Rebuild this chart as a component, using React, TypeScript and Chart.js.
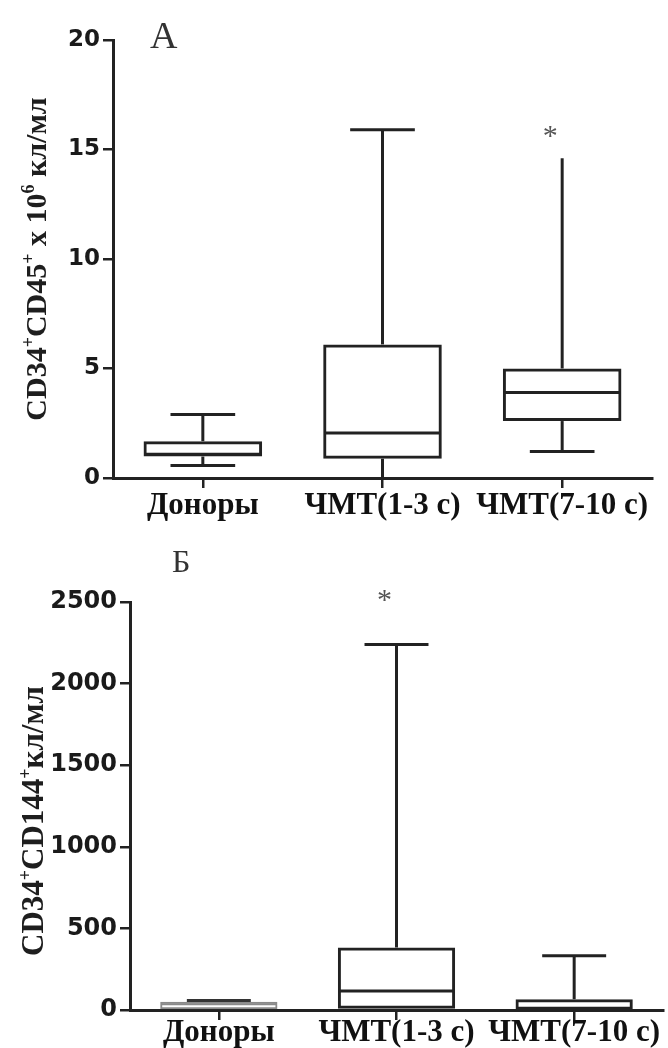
import React, { useEffect, useRef } from 'react';
import { Chart, registerables } from 'chart.js';

Chart.register(...registerables);

// ---------- shared ----------
const categories = ['Доноры', 'ЧМТ(1-3 с)', 'ЧМТ(7-10 с)'];

// ---------- panel A : CD34+CD45+ x 10^6 кл/мл ----------
const minA = [0.57, 0, 1.21];
const q1A = [0.98, 0.88, 2.6];
const medA = [1.08, 2.05, 3.9];
const q3A = [1.68, 6.1, 5.0];
const maxA = [2.9, 15.9, 14.6];
const lowCapA = [true, false, true];
const highCapA = [true, true, false];
const starA: (number | null)[] = [null, null, 15.9];
const yTicksA = [0, 5, 10, 15, 20];
const titleA: [string, boolean][] = [
  ['CD34', false], ['+', true], ['CD45', false], ['+', true],
  [' x 10', false], ['6', true], [' кл/мл', false],
];

// ---------- panel B : CD34+CD144+ кл/мл ----------
const minB = [5, 0, 2];
const q1B = [5, 0, 2];
const medB = [35, 117, 8];
const q3B = [50, 383, 66];
const maxB = [58, 2240, 332];
const lowCapB = [false, false, false];
const highCapB = [true, true, true];
const starB: (number | null)[] = [null, 2550, null];
const yTicksB = [0, 500, 1000, 1500, 2000, 2500];
const titleB: [string, boolean][] = [
  ['CD34', false], ['+', true], ['CD144', false], ['+', true], ['кл/мл', false],
];

const INK = '#222222';

const boxPlugin = {
  id: 'boxWhiskers',
  afterDatasetsDraw(chart: any, _args: any, opts: any) {
    const { ctx } = chart;
    const x = chart.scales.x;
    const y = chart.scales.y;
    const meta = chart.getDatasetMeta(0);
    const catW = x.width / categories.length;
    ctx.save();
    ctx.lineCap = 'butt';
    const line = (x1: number, y1: number, x2: number, y2: number) => {
      ctx.beginPath();
      ctx.moveTo(x1, y1);
      ctx.lineTo(x2, y2);
      ctx.stroke();
    };
    opts.med.forEach((_: number, i: number) => {
      const cx = x.getPixelForValue(i);
      const half = meta.data[i].width / 2;
      const capHalf = (catW * opts.capFrac) / 2;
      const pMin = y.getPixelForValue(opts.min[i]);
      const pQ1 = y.getPixelForValue(opts.q1[i]);
      const pMed = y.getPixelForValue(opts.med[i]);
      const pQ3 = y.getPixelForValue(opts.q3[i]);
      const pMax = y.getPixelForValue(opts.max[i]);
      ctx.strokeStyle = opts.colors[i];
      ctx.lineWidth = opts.widths[i];
      // median
      line(cx - half + 1, pMed, cx + half - 1, pMed);
      // upper whisker
      ctx.strokeStyle = opts.whiskerColors[i];
      ctx.lineWidth = 3;
      line(cx, pQ3, cx, pMax);
      if (opts.highCap[i]) line(cx - capHalf, pMax, cx + capHalf, pMax);
      // lower whisker
      if (opts.min[i] < opts.q1[i]) {
        line(cx, pQ1, cx, pMin);
        if (opts.lowCap[i]) line(cx - capHalf, pMin, cx + capHalf, pMin);
      }
      // significance star
      const s = opts.stars[i];
      if (s !== null && s !== undefined) {
        ctx.fillStyle = '#555555';
        ctx.font = '30px "Liberation Serif", serif';
        ctx.textAlign = 'center';
        ctx.textBaseline = 'alphabetic';
        ctx.fillText('*', cx - 12, y.getPixelForValue(s) + 30 * 0.5);
      }
    });
    ctx.restore();
  },
};

const titlePlugin = {
  id: 'rotTitle',
  afterDraw(chart: any, _args: any, opts: any) {
    const { ctx, chartArea } = chart;
    const segs: [string, boolean][] = opts.segments;
    const bigB = 'bold ' + opts.size + 'px "Liberation Serif", serif';
    const small = 'bold 18px "Liberation Serif", serif';
    ctx.save();
    let total = 0;
    segs.forEach(([t, sup]) => {
      ctx.font = sup ? small : bigB;
      total += ctx.measureText(t).width;
    });
    const cy = (chartArea.top + chartArea.bottom) / 2 + opts.dy;
    ctx.translate(opts.x, cy);
    ctx.rotate(-Math.PI / 2);
    ctx.fillStyle = '#1e1e1e';
    ctx.textBaseline = 'alphabetic';
    ctx.textAlign = 'left';
    let pos = -total / 2;
    segs.forEach(([t, sup]) => {
      ctx.font = sup ? small : bigB;
      ctx.fillText(t, pos, sup ? -2 : 10);
      pos += ctx.measureText(t).width;
    });
    ctx.restore();
  },
};

type PanelProps = {
  q1: number[]; q3: number[]; min: number[]; med: number[]; max: number[];
  lowCap: boolean[]; highCap: boolean[]; stars: (number | null)[];
  ticks: number[]; title: [string, boolean][];
  height: number; padTop: number; padRight: number; yWidth: number; xHeight: number;
  colors: string[]; widths: number[]; whiskerColors: string[]; titleDy: number;
  titleSize: number; labelPad: number; tickSize: number; titleX: number;
};

function BoxPanel(p: PanelProps) {
  const ref = useRef<HTMLCanvasElement | null>(null);
  useEffect(() => {
    if (!ref.current) return;
    const yMax = p.ticks[p.ticks.length - 1];
    const chart = new Chart(ref.current, {
      type: 'bar',
      data: {
        labels: categories,
        datasets: [
          {
            data: p.q1.map((v, i) => [v, p.q3[i]]) as any,
            backgroundColor: 'rgba(255,255,255,0)',
            borderColor: p.colors,
            borderWidth: p.widths,
            borderSkipped: false,
            barPercentage: 0.66,
            categoryPercentage: 1,
          },
        ],
      },
      options: {
        responsive: false,
        animation: false,
        events: [],
        layout: { padding: { top: p.padTop, right: p.padRight, left: 0, bottom: 0 } },
        plugins: {
          legend: { display: false },
          tooltip: { enabled: false },
          title: { display: false },
          boxWhiskers: {
            min: p.min, q1: p.q1, med: p.med, q3: p.q3, max: p.max,
            lowCap: p.lowCap, highCap: p.highCap, stars: p.stars,
            colors: p.colors, widths: p.widths, whiskerColors: p.whiskerColors,
            capFrac: 0.36,
          },
          rotTitle: { segments: p.title, x: p.titleX, dy: p.titleDy, size: p.titleSize },
        } as any,
        scales: {
          x: {
            type: 'category',
            offset: true,
            grid: {
              offset: false,
              drawOnChartArea: false,
              drawTicks: true,
              tickLength: 10,
              color: INK,
              lineWidth: 2.5,
            },
            border: { display: true, color: INK, width: 3 },
            ticks: {
              autoSkip: false,
              maxRotation: 0,
              minRotation: 0,
              padding: p.labelPad,
              color: '#111111',
              font: { family: '"Liberation Serif", serif', size: 31, weight: 'bold', lineHeight: 1 },
            },
            afterFit: (s: any) => { s.height = p.xHeight; },
          },
          y: {
            min: 0,
            max: yMax,
            grid: {
              drawOnChartArea: false,
              drawTicks: true,
              tickLength: 10,
              color: INK,
              lineWidth: 2.5,
            },
            border: { display: true, color: INK, width: 3 },
            ticks: {
              padding: 3,
              color: '#1a1a1a',
              font: { family: '"DejaVu Sans", sans-serif', size: p.tickSize, weight: 'bold' },
              callback: (v: any) => String(v),
            },
            afterBuildTicks: (s: any) => { s.ticks = p.ticks.map((v) => ({ value: v })); },
            afterFit: (s: any) => { s.width = p.yWidth; },
          },
        },
      },
      plugins: [boxPlugin, titlePlugin],
    });
    return () => chart.destroy();
  }, []);
  return <canvas ref={ref} width={668} height={p.height} style={{ display: 'block', width: 668, height: p.height }} />;
}

export default function App() {
  return (
    <div style={{ position: 'absolute', left: 0, top: 0, width: 668, height: 1048, background: '#fff', overflow: 'hidden' }}>
      <div style={{ position: 'absolute', left: 0, top: 0 }}>
        <BoxPanel
          q1={q1A} q3={q3A} min={minA} med={medA} max={maxA}
          lowCap={lowCapA} highCap={highCapA} stars={starA}
          ticks={yTicksA} title={titleA}
          height={530} padTop={40} padRight={16} yWidth={113} xHeight={52}
          colors={[INK, INK, INK]} widths={[3, 3, 3]} whiskerColors={[INK, INK, INK]}
          titleDy={0} titleSize={30} labelPad={2} tickSize={23} titleX={36}
        />
      </div>
      <div style={{ position: 'absolute', left: 0, top: 530 }}>
        <BoxPanel
          q1={q1B} q3={q3B} min={minB} med={medB} max={maxB}
          lowCap={lowCapB} highCap={highCapB} stars={starB}
          ticks={yTicksB} title={titleB}
          height={518} padTop={72} padRight={5} yWidth={130} xHeight={38}
          colors={['#8a8a8a', INK, INK]} widths={[2, 3, 3]} whiskerColors={['#333333', INK, INK]}
          titleDy={15} titleSize={31} labelPad={-3} tickSize={24} titleX={33}
        />
      </div>
      <div style={{ position: 'absolute', left: 150, top: 16, font: '38px "Liberation Serif", serif', lineHeight: 1, color: '#333' }}>А</div>
      <div style={{ position: 'absolute', left: 172, top: 545, font: '32px "Liberation Serif", serif', lineHeight: 1, color: '#333' }}>Б</div>
    </div>
  );
}
